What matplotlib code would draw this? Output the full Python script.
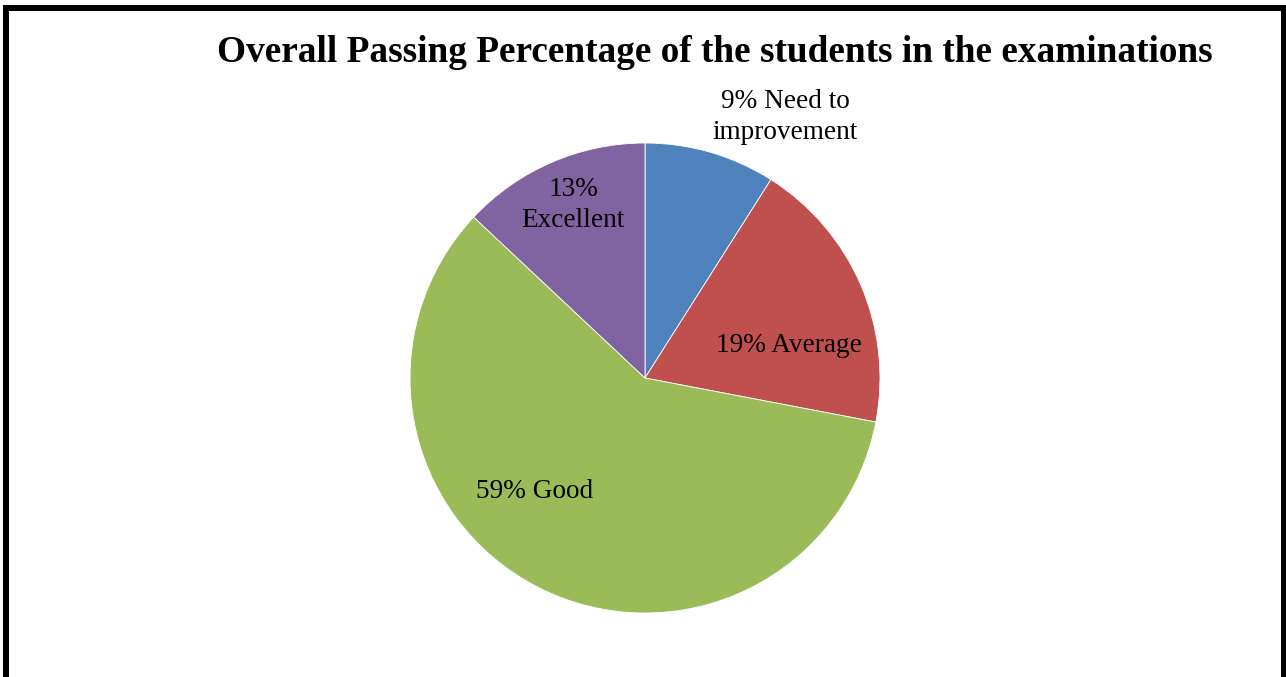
import matplotlib
matplotlib.use("Agg")
import matplotlib.pyplot as plt
from matplotlib.lines import Line2D

categories = ["Need to\nimprovement", "Average", "Good", "Excellent"]
values = [9, 19, 59, 13]
colors = ["#4F81BD", "#C0504D", "#9BBB59", "#8064A2"]
title = "Overall Passing Percentage of the students in the examinations"

W, H = 1286, 677
fig = plt.figure(figsize=(W / 100, H / 100), dpi=100)
ax = fig.add_axes([0, 0, 1, 1])
ax.set_xlim(0, W)
ax.set_ylim(0, H)
ax.set_aspect("equal")
ax.axis("off")

cx, cy, r = 645, H - 378, 235
ax.pie(values, colors=colors, startangle=90, counterclock=False,
       center=(cx, cy), radius=r, frame=True,
       wedgeprops=dict(edgecolor="white", linewidth=0.6))
ax.set_xlim(0, W)
ax.set_ylim(0, H)
ax.axis("off")

label_texts = [f"{v}% {c}" if "\n" in c else f"{v}% {c}" for v, c in zip(values, categories)]
label_texts = ["9% Need to\nimprovement", "19% Average", "59% Good", "13%\nExcellent"]
label_pos = [(785, 117), (789, 346), (535, 491), (573, 205)]
for t, (x, y) in zip(label_texts, label_pos):
    ax.text(x, H - y, t, ha="center", va="center", fontsize=19.6,
            family="Liberation Serif", linespacing=1.35)

fig.text(715 / W, 1 - 53 / H, title, ha="center", va="center",
         fontsize=26.8, fontweight="bold", family="Liberation Serif")

# frame
lw = 6 * 72 / 100
fig.add_artist(Line2D([6 / W, 6 / W], [0, 1 - 8 / H], transform=fig.transFigure,
                      color="black", linewidth=lw, solid_capstyle="projecting"))
fig.add_artist(Line2D([6 / W, 1283.5 / W], [1 - 8 / H, 1 - 8 / H], transform=fig.transFigure,
                      color="black", linewidth=lw, solid_capstyle="projecting"))
fig.add_artist(Line2D([1283.5 / W, 1283.5 / W], [0, 1 - 8 / H], transform=fig.transFigure,
                      color="black", linewidth=lw, solid_capstyle="projecting"))

fig.savefig("out.png", dpi=100)
